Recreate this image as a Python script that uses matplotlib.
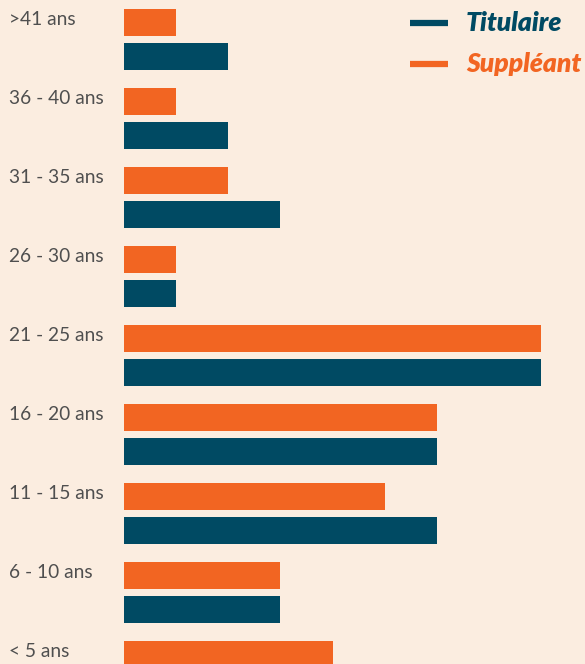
import numpy as np
import matplotlib.pyplot as plt
from matplotlib.lines import Line2D

# tranches d'ancienneté, de haut en bas
categories = ['>41 ans', '36 - 40 ans', '31 - 35 ans', '26 - 30 ans', '21 - 25 ans',
              '16 - 20 ans', '11 - 15 ans', '6 - 10 ans', '< 5 ans']
suppleant = [1, 1, 2, 1, 8, 6, 5, 3, 4]
titulaire = [2, 2, 3, 1, 8, 6, 6, 3, 4]

BG = '#FBEDE0'
ORANGE = '#F26522'
TEAL = '#004A63'
GREY = '#4F4F4F'

W, H = 585, 664
fig = plt.figure(figsize=(W / 100, H / 100), dpi=100, facecolor=BG)
ax = fig.add_axes([0, 0, 1, 1], facecolor=BG)

y = np.arange(len(categories))
offset = 0.215
height = 0.342
ax.barh(y - offset, suppleant, height=height, color=ORANGE)
ax.barh(y + offset, titulaire, height=height, color=TEAL)

unit = 52.125  # px per unit
ax.set_xlim(-124 / unit, (W - 124) / unit)
ax.set_ylim(7.905, -0.5)
ax.axis('off')

for yi, label in zip(y, categories):
    ax.text(-115 / unit, yi - 0.25, label, ha='left', va='center',
            fontsize=13.8, color=GREY, family='Lato', fontweight='normal')

# légende
legend_items = [('Titulaire', TEAL, 23), ('Suppléant', ORANGE, 64)]
for name, color, py in legend_items:
    fy = 1 - py / H
    fig.add_artist(Line2D([410 / W, 448 / W], [fy, fy], color=color, lw=4.5,
                          solid_capstyle='butt', transform=fig.transFigure))
    fig.text(466 / W, fy, name, ha='left', va='center', fontsize=19,
             color=color, family='Lato', fontweight='heavy', style='italic')

fig.savefig('out.png', dpi=100, facecolor=BG)
